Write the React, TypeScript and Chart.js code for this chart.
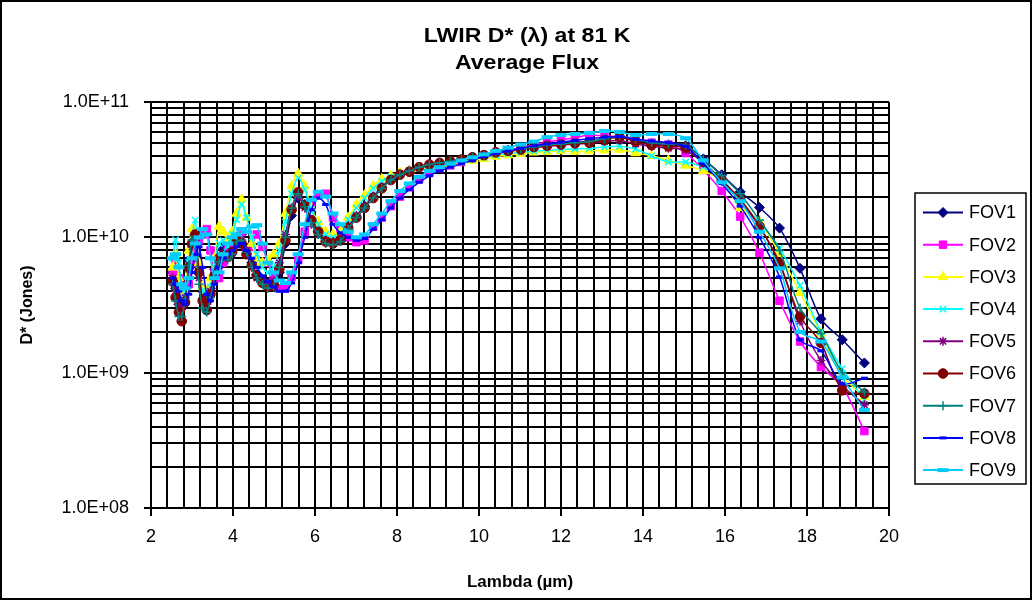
import React, { useEffect, useRef } from 'react';
import { Chart, registerables } from 'chart.js';
import { drawPoint } from 'chart.js/helpers';

Chart.register(...registerables);

// Wavelength (µm)
const lambda = [
  2.53, 2.60, 2.68, 2.75, 2.83, 2.92, 3.00, 3.08, 3.17, 3.26,
  3.36, 3.45, 3.55, 3.66, 3.76, 3.87, 3.98, 4.09, 4.21, 4.33,
  4.46, 4.58, 4.72, 4.85, 4.99, 5.13, 5.28, 5.43, 5.59, 5.75,
  5.91, 6.08, 6.26, 6.44, 6.62, 6.81, 7.01, 7.21, 7.42, 7.63,
  7.85, 8.07, 8.30, 8.54, 8.79, 9.04, 9.30, 9.57, 9.84, 10.12,
  10.41, 10.71, 11.02, 11.34, 11.66, 12.00, 12.34, 12.69, 13.06, 13.43,
  13.82, 14.21, 14.62, 15.04, 15.47, 15.92, 16.37, 16.84, 17.33, 17.83,
  18.34, 18.86, 19.40,
];

// D* values in units of 1e9 Jones
const fov1 = [
  5.5, 4.2, 3.2, 3.0, 4.0, 6.8, 8.8, 9.0, 6.0, 4.0,
  3.3, 4.2, 5.8, 7.0, 8.2, 7.6, 8.3, 10.0, 10.5, 8.2,
  6.5, 5.3, 4.8, 4.6, 4.6, 5.5, 9.0, 14.5, 19.5, 17.5,
  13.0, 11.0, 9.8, 9.2, 9.8, 11.5, 14.0, 17.0, 20.0, 23.5,
  27.0, 29.5, 31.0, 33.0, 34.5, 35.5, 36.5, 37.5, 39.0, 40.5,
  42.5, 44.0, 45.0, 47.0, 48.0, 49.5, 50.5, 51.0, 53.5, 55.5,
  52.0, 49.0, 48.0, 47.5, 38.0, 29.0, 21.7, 16.6, 11.7, 5.9,
  2.5, 1.75, 1.18,
];
const fov2 = [
  5.5, 6.5, 5.0, 3.8, 3.5, 4.5, 6.5, 8.0, 9.5, 10.5,
  11.5, 8.0, 5.5, 5.0, 6.5, 8.0, 8.5, 9.5, 11.0, 7.8,
  8.5, 10.5, 8.5, 6.5, 5.0, 4.2, 4.2, 5.1, 6.8, 11.0,
  17.8, 20.5, 21.0, 14.0, 11.5, 10.0, 9.2, 9.5, 12.0, 14.0,
  17.0, 20.0, 23.5, 27.0, 30.0, 32.5, 34.0, 36.0, 38.0, 40.0,
  42.0, 44.0, 46.0, 48.5, 50.5, 52.5, 54.5, 57.0, 56.0, 55.5,
  54.0, 50.0, 48.5, 42.0, 31.5, 22.0, 14.2, 7.7, 3.4, 1.7,
  1.1, 0.79, 0.37,
];
const fov3 = [
  6.0, 7.5, 5.0, 3.6, 3.9, 8.0, 11.5, 10.5, 6.5, 4.3,
  4.0, 5.0, 7.0, 12.0, 11.0, 9.5, 11.0, 15.0, 19.0, 14.0,
  9.0, 7.0, 6.5, 6.8, 7.5, 9.0, 15.0, 24.0, 29.5, 24.0,
  16.5, 13.0, 11.0, 10.5, 11.0, 14.0, 17.5, 20.5, 24.0, 27.0,
  28.5, 30.0, 31.0, 32.5, 33.5, 34.5, 35.0, 36.0, 37.0, 38.0,
  39.5, 40.5, 41.5, 42.5, 43.0, 43.5, 43.0, 43.5, 44.0, 44.5,
  42.0, 40.0, 37.0, 34.0, 31.0, 26.0, 16.5, 13.0, 7.6, 3.9,
  1.95, 0.95, 0.66,
];
const fov4 = [
  7.0, 9.6, 6.5, 4.2, 3.9, 6.5, 10.0, 13.4, 5.7, 4.0,
  3.8, 4.3, 6.5, 9.0, 9.5, 8.5, 10.5, 13.5, 17.5, 14.0,
  10.0, 7.5, 6.0, 5.5, 6.0, 8.0, 13.0, 21.0, 27.5, 22.5,
  16.0, 12.5, 10.5, 10.0, 10.5, 13.5, 16.5, 19.5, 23.0, 26.0,
  28.0, 29.5, 31.0, 32.5, 33.5, 34.5, 35.5, 36.5, 37.5, 39.0,
  40.5, 41.5, 42.5, 43.5, 44.0, 44.5, 45.0, 45.5, 46.5, 47.0,
  45.0, 40.0, 36.0, 36.0, 33.0, 27.5, 18.0, 13.0, 8.3, 4.4,
  2.0, 1.07, 0.63,
];
const fov5 = [
  5.0, 4.0, 3.2, 3.0, 3.6, 5.8, 8.5, 9.5, 5.0, 3.5,
  3.2, 4.0, 5.5, 6.5, 7.5, 7.0, 7.5, 9.0, 9.5, 8.0,
  6.0, 5.0, 4.7, 4.6, 4.8, 6.5, 10.5, 16.5, 20.0, 16.5,
  12.5, 10.5, 9.5, 9.3, 10.0, 12.0, 14.5, 17.0, 20.0, 23.5,
  27.0, 29.5, 31.0, 33.0, 34.0, 35.0, 36.0, 37.0, 38.5, 40.0,
  42.0, 43.0, 44.5, 46.0, 47.0, 48.0, 49.0, 49.5, 51.0, 52.0,
  49.0, 47.0, 45.5, 44.0, 35.5, 26.0, 18.5, 12.0, 6.5, 2.4,
  1.23, 0.80, 0.58,
];
const fov6 = [
  4.7, 3.6, 2.8, 2.4, 3.3, 6.0, 9.0, 10.5, 5.5, 3.4,
  2.9, 3.8, 5.2, 7.0, 7.4, 7.2, 7.8, 9.5, 9.0, 7.5,
  6.2, 5.2, 4.6, 4.3, 4.4, 5.8, 9.5, 16.0, 21.5, 17.3,
  13.4, 11.0, 9.3, 9.0, 9.5, 11.8, 14.0, 16.5, 19.5, 23.0,
  26.5, 29.0, 30.5, 33.0, 34.5, 35.5, 36.5, 37.5, 39.0, 40.5,
  42.5, 43.5, 44.5, 46.5, 47.5, 48.5, 49.5, 50.0, 52.5, 55.0,
  51.0, 48.0, 47.0, 46.0, 36.0, 26.5, 19.2, 12.1, 6.4, 2.6,
  1.66, 0.74, 0.70,
];
const fov7 = [
  4.5, 3.4, 2.6, 2.6, 3.5, 6.2, 9.5, 9.0, 4.5, 3.0,
  2.8, 3.6, 5.0, 6.6, 7.3, 6.8, 7.5, 9.2, 9.5, 7.8,
  6.0, 5.0, 4.5, 4.2, 4.3, 6.0, 10.0, 16.5, 21.0, 16.8,
  12.8, 10.5, 9.0, 8.8, 9.3, 11.5, 14.0, 16.5, 19.5, 23.0,
  26.5, 29.0, 31.0, 33.0, 34.5, 35.5, 36.5, 37.5, 39.0, 40.5,
  42.5, 44.0, 45.0, 46.5, 48.0, 49.0, 50.0, 51.0, 53.5, 56.0,
  53.0, 50.0, 49.0, 48.0, 38.0, 28.5, 21.0, 13.4, 8.0, 3.0,
  1.95, 1.00, 0.72,
];
const fov8 = [
  5.0, 4.5, 4.0, 3.4, 3.2, 3.8, 5.5, 7.5, 8.5, 6.0,
  3.8, 3.4, 4.5, 6.0, 7.0, 7.5, 8.0, 8.5, 9.0, 8.0,
  7.0, 6.0, 5.2, 4.7, 4.3, 4.0, 4.0, 4.6, 6.5, 10.0,
  16.0, 19.5, 17.5, 12.5, 10.8, 10.0, 9.5, 9.8, 11.5, 13.5,
  16.5, 19.5, 22.5, 25.5, 28.5, 31.0, 33.0, 35.0, 37.0, 39.5,
  41.5, 43.5, 45.5, 47.5, 49.0, 50.5, 52.0, 53.5, 55.0, 55.5,
  53.0, 51.5, 50.0, 47.0, 35.0, 25.0, 17.0, 10.0, 5.1, 1.75,
  1.45, 0.83, 0.91,
];
const fov9 = [
  7.0, 7.5, 6.0, 4.5, 4.2, 5.0, 7.0, 9.0, 10.0, 11.5,
  10.5, 7.0, 5.0, 5.5, 7.5, 9.0, 10.0, 10.5, 11.5, 11.0,
  12.0, 12.3, 9.0, 6.5, 5.5, 4.8, 4.6, 5.5, 7.5, 12.5,
  19.0, 21.7, 20.0, 15.0, 12.5, 11.0, 10.0, 10.5, 12.5, 15.0,
  18.5, 22.0, 25.0, 28.0, 31.0, 33.0, 35.0, 37.0, 39.0, 41.0,
  43.5, 46.0, 48.5, 51.0, 55.0, 57.0, 58.0, 59.0, 61.0, 60.0,
  57.0, 58.0, 58.0, 54.0, 37.0, 25.5, 18.5, 11.0, 5.9, 2.0,
  1.7, 0.92, 0.53,
];

const seriesNames = ['FOV1', 'FOV2', 'FOV3', 'FOV4', 'FOV5', 'FOV6', 'FOV7', 'FOV8', 'FOV9'];
const seriesValues = [fov1, fov2, fov3, fov4, fov5, fov6, fov7, fov8, fov9];

const xMajorTicks = [2, 4, 6, 8, 10, 12, 14, 16, 18, 20];
const yMajorTicks = [1e8, 1e9, 1e10, 1e11];
const yMajorLabels = ['1.0E+08', '1.0E+09', '1.0E+10', '1.0E+11'];
const yGridValues = [
  1e8, 2e8, 3e8, 4e8, 5e8, 6e8, 7e8, 8e8, 9e8,
  1e9, 2e9, 3e9, 4e9, 5e9, 6e9, 7e9, 8e9, 9e9,
  1e10, 2e10, 3e10, 4e10, 5e10, 6e10, 7e10, 8e10, 9e10,
  1e11,
];

const titleLines = ['LWIR D* (\u03BB) at 81 K', 'Average Flux'];
const xTitle = 'Lambda (\u00B5m)';
const yTitle = 'D* (Jones)';

const colors = ['#000080', '#FF00FF', '#FFFF00', '#00FFFF', '#800080', '#800000', '#008080', '#0000FF', '#00CCFF'];
const pointStyles = ['rectRot', 'rect', 'triangle', 'crossRot', 'star', 'circle', 'cross', 'line', 'line'];
const pointRadii = [5, 5.3, 5.5, 4.5, 4.5, 4.8, 4.5, 3.5, 5.5];
const pointBorders = [1, 1, 1, 1.5, 1.5, 1, 1.5, 3, 4];

const FONT = '"Liberation Sans", Arial, Helvetica, sans-serif';

const isMajorX = (v: number) => xMajorTicks.some((t) => Math.abs(t - v) < 1e-6);
const isMajorY = (v: number) => yMajorTicks.some((t) => Math.abs(t - v) / t < 1e-6);

const decorPlugin = {
  id: 'decor',
  beforeDraw(chart: any) {
    const ctx = chart.ctx;
    ctx.save();
    ctx.fillStyle = '#ffffff';
    ctx.fillRect(0, 0, chart.width, chart.height);
    ctx.restore();
  },
  afterDraw(chart: any) {
    const ctx = chart.ctx;
    ctx.save();
    // outer border
    ctx.strokeStyle = '#000';
    ctx.lineWidth = 2;
    ctx.strokeRect(1, 1, chart.width - 2, chart.height - 2);
    // title (slightly widened, as in the original rendering)
    ctx.fillStyle = '#000';
    ctx.textAlign = 'center';
    ctx.textBaseline = 'middle';
    ctx.font = `bold 21px ${FONT}`;
    [36, 63].forEach((ty, k) => {
      ctx.save();
      ctx.translate(527, ty);
      ctx.scale(1.1, 1);
      ctx.fillText(titleLines[k], 0, 0);
      ctx.restore();
    });
    // legend
    const lx = 915, ly = 193, lw = 111, lh = 291;
    ctx.strokeStyle = '#000';
    ctx.lineWidth = 1.5;
    ctx.strokeRect(lx, ly, lw, lh);
    seriesNames.forEach((name, i) => {
      const y = 212.5 + i * 32.2;
      ctx.strokeStyle = colors[i];
      ctx.lineWidth = 2;
      ctx.beginPath();
      ctx.moveTo(923, y);
      ctx.lineTo(963, y);
      ctx.stroke();
      ctx.fillStyle = colors[i];
      ctx.strokeStyle = colors[i];
      ctx.lineWidth = pointBorders[i];
      drawPoint(ctx, { pointStyle: pointStyles[i], rotation: 0, radius: pointRadii[i], borderWidth: pointBorders[i] } as any, 943, y);
      ctx.fillStyle = '#000';
      ctx.font = `18px ${FONT}`;
      ctx.textAlign = 'left';
      ctx.textBaseline = 'middle';
      ctx.fillText(name, 969, y + 1);
    });
    ctx.restore();
  },
};

export default function App() {
  const ref = useRef<HTMLCanvasElement>(null);
  useEffect(() => {
    document.body.style.margin = '0';
    const canvas = ref.current as HTMLCanvasElement;
    Chart.defaults.font.family = FONT;
    Chart.defaults.color = '#000';
    const datasets = seriesValues.map((vals, i) => ({
      label: seriesNames[i],
      data: lambda.map((x, j) => ({ x, y: vals[j] * 1e9 })),
      borderColor: colors[i],
      backgroundColor: colors[i],
      borderWidth: 1.5,
      showLine: true,
      tension: 0.3,
      pointStyle: pointStyles[i],
      pointRadius: pointRadii[i],
      pointBorderWidth: pointBorders[i],
      pointBackgroundColor: colors[i],
      pointBorderColor: colors[i],
      order: 9 - i,
    }));
    const chart = new Chart(canvas, {
      type: 'scatter',
      data: { datasets },
      plugins: [decorPlugin],
      options: {
        animation: false,
        responsive: false,
        devicePixelRatio: 1,
        events: [],
        layout: { padding: { left: 0, top: 102, right: 143, bottom: 0 } },
        plugins: { legend: { display: false }, title: { display: false }, tooltip: { enabled: false } },
        scales: {
          x: {
            type: 'linear',
            min: 2,
            max: 20,
            afterFit: (scale: any) => { scale.height = 92; },
            ticks: {
              stepSize: 0.4,
              autoSkip: false,
              maxRotation: 0,
              minRotation: 0,
              padding: 10,
              color: '#000',
              font: { size: 18 },
              callback: (v: any) => (isMajorX(Number(v)) ? String(Math.round(Number(v))) : ''),
            },
            grid: {
              color: '#000',
              lineWidth: 2,
              tickLength: 8,
              tickColor: (c: any) => (c.tick && isMajorX(c.tick.value) ? '#000' : 'rgba(0,0,0,0)'),
            },
            border: { color: '#000', width: 2 },
            title: { display: true, text: xTitle, color: '#000', font: { size: 17, weight: 'bold' }, padding: { top: 0, bottom: 7 } },
          },
          y: {
            type: 'logarithmic',
            min: 1e8,
            max: 1e11,
            afterFit: (scale: any) => { scale.width = 151; },
            afterBuildTicks: (scale: any) => { scale.ticks = yGridValues.map((v) => ({ value: v })); },
            ticks: {
              autoSkip: false,
              padding: 15,
              color: '#000',
              font: { size: 18 },
              callback: (v: any) => {
                const idx = yMajorTicks.findIndex((t) => Math.abs(t - Number(v)) / t < 1e-6);
                return idx >= 0 ? yMajorLabels[idx] : '';
              },
            },
            grid: {
              color: '#000',
              lineWidth: 2,
              tickLength: 7,
              tickColor: (c: any) => (c.tick && isMajorY(c.tick.value) ? '#000' : 'rgba(0,0,0,0)'),
            },
            border: { color: '#000', width: 2 },
            title: { display: true, text: yTitle, color: '#000', font: { size: 16, weight: 'bold' }, padding: { top: 18, bottom: 0 } },
          },
        },
      } as any,
    });
    return () => chart.destroy();
  }, []);
  return (
    <div style={{ width: 1032, height: 600 }}>
      <canvas ref={ref} width={1032} height={600} style={{ display: 'block' }} />
    </div>
  );
}
